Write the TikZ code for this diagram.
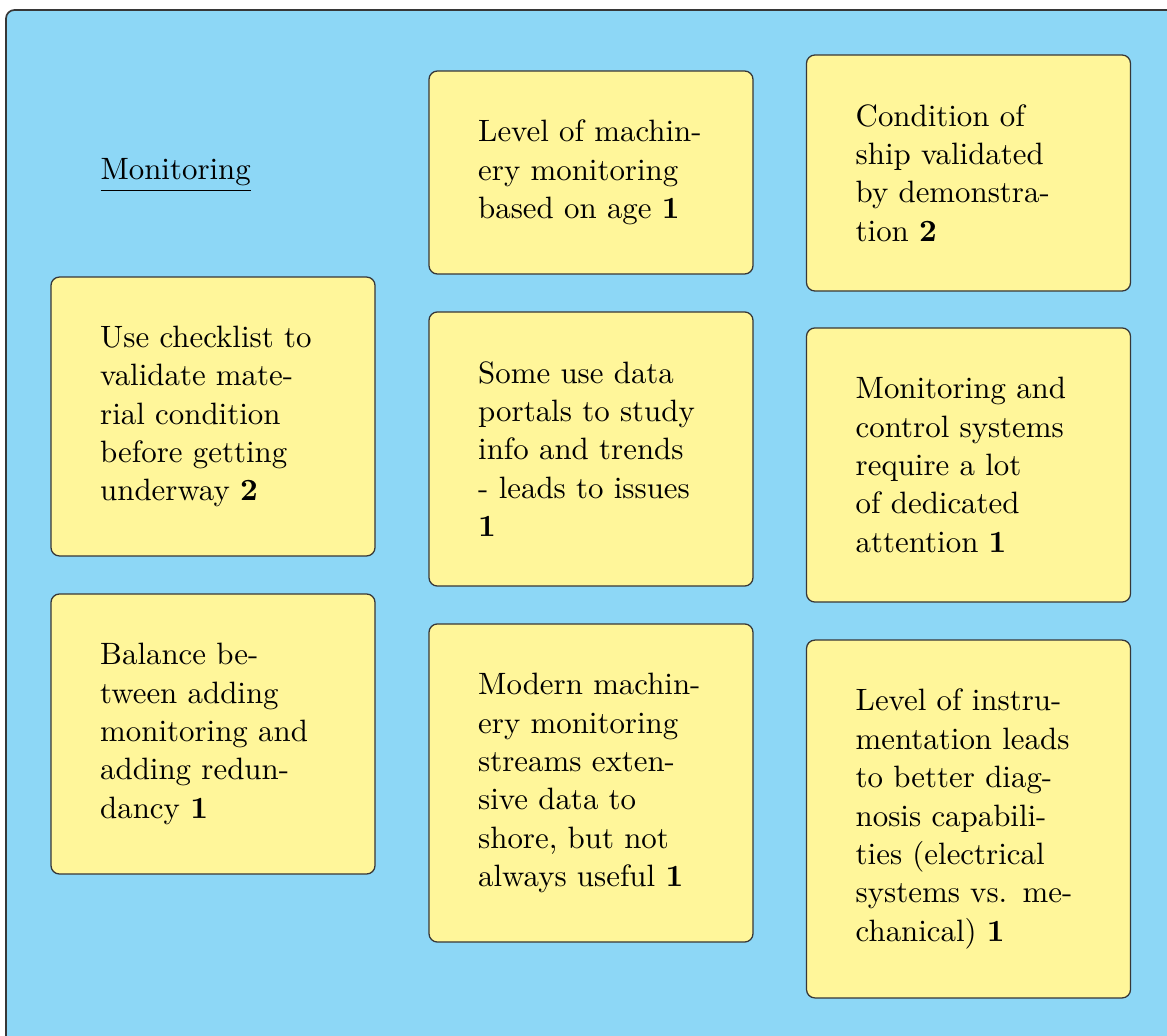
\documentclass[tikz,border=0pt]{standalone}
\definecolor{panelblue}{RGB}{141,215,246}
\definecolor{noteyellow}{RGB}{255,246,154}
\definecolor{edgegray}{RGB}{55,55,55}
\tikzset{
  txt/.style={font=\fontsize{10.95pt}{13.6pt}\selectfont},
  note/.style={txt, draw=edgegray, line width=0.45pt, fill=noteyellow,
    rounded corners=3pt, text width=80pt, align=left,
    minimum width=114.9pt, inner sep=0pt, anchor=center},
}
\begin{document}
\begin{tikzpicture}[x=0.3546pt, y=-0.3546pt]
  \useasboundingbox (0,0) rectangle (1167,1036);
  \clip (0,0) rectangle (1167,1036);
  % background panel, running off the right and bottom edges
  \draw[edgegray, line width=0.6pt, fill=panelblue, rounded corners=3pt]
    (6,10) rectangle (1190,1060);

  % heading
  \node[txt, inner sep=0pt, anchor=base west] (title) at (100,180)
    {\underline{Monitoring}};

  % left column
  \node[note, minimum height=98.9pt] (n1) at (213,416.5)
    {Use checklist to\\validate mate-\\rial condition\\before getting\\underway \textbf{2}};
  \node[note, minimum height=99.3pt] (n2) at (213,734)
    {Balance be-\\tween adding\\monitoring and\\adding redun-\\dancy \textbf{1}};

  % middle column
  \node[note, minimum height=72pt] (n3) at (591,172.5)
    {Level of machin-\\ery monitoring\\based on age \textbf{1}};
  \node[note, minimum height=97.2pt] (n4) at (591,449)
    {Some use data\\portals to study\\info and trends\\- leads to issues\\\textbf{1}};
  \node[note, minimum height=112.8pt] (n5) at (591,783)
    {Modern machin-\\ery monitoring\\streams exten-\\sive data to\\shore, but not\\always useful \textbf{1}};

  % right column
  \node[note, minimum height=83.7pt] (n6) at (968.5,173)
    {Condition of\\ship validated\\by demonstra-\\tion \textbf{2}};
  \node[note, minimum height=97.2pt] (n7) at (968.5,465)
    {Monitoring and\\control systems\\require a lot\\of dedicated\\attention \textbf{1}};
  \node[note, minimum height=126.9pt] (n8) at (968.5,819)
    {Level of instru-\\mentation leads\\to better diag-\\nosis capabili-\\ties (electrical\\systems vs. me-\\chanical) \textbf{1}};
\end{tikzpicture}
\end{document}
